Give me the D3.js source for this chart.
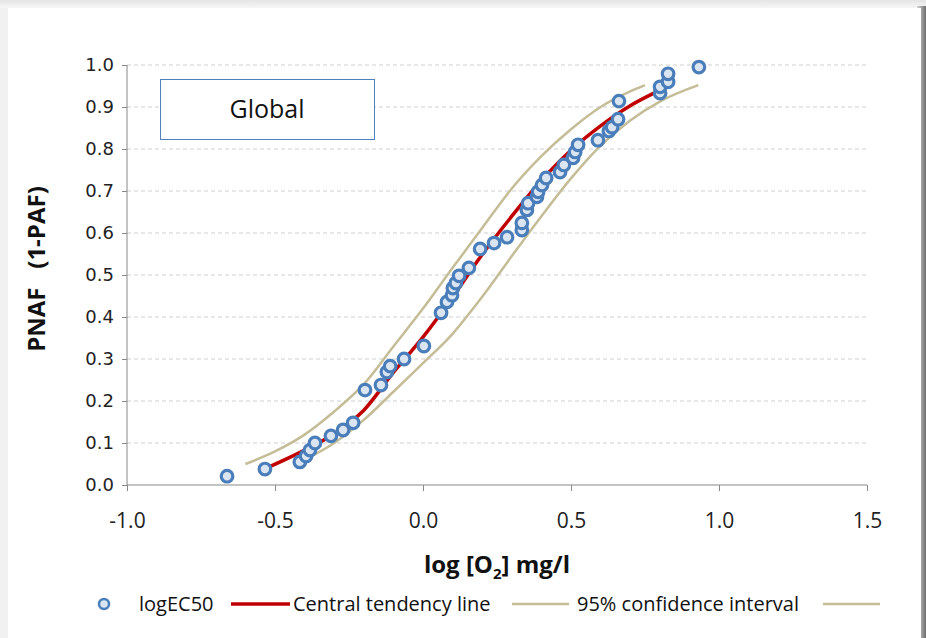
<!DOCTYPE html>
<html>
<head>
<meta charset="utf-8">
<script src="https://cdn.jsdelivr.net/npm/d3@7"></script>
<style>
  body { margin: 0; background: #ffffff; }
  svg { display: block; }
</style>
</head>
<body>
<div id="chart"></div>
<script>
// observed logEC50 values and their PNAF rank
const obsX = [-0.662, -0.534, -0.416, -0.395, -0.382, -0.365, -0.311, -0.270, -0.236, -0.196,
  -0.142, -0.122, -0.111, -0.064, 0.003, 0.061, 0.081, 0.098, 0.101, 0.111,
  0.122, 0.155, 0.193, 0.240, 0.284, 0.334, 0.334, 0.351, 0.355, 0.385,
  0.389, 0.402, 0.416, 0.463, 0.476, 0.507, 0.514, 0.524, 0.591, 0.628,
  0.639, 0.659, 0.662, 0.801, 0.801, 0.828, 0.828, 0.932];
const obsP = [0.021, 0.038, 0.055, 0.069, 0.083, 0.100, 0.117, 0.131, 0.148, 0.226,
  0.238, 0.269, 0.283, 0.300, 0.331, 0.410, 0.436, 0.452, 0.469, 0.481,
  0.498, 0.517, 0.562, 0.576, 0.590, 0.607, 0.624, 0.655, 0.671, 0.686,
  0.698, 0.714, 0.731, 0.745, 0.762, 0.779, 0.793, 0.810, 0.821, 0.843,
  0.852, 0.871, 0.914, 0.933, 0.948, 0.960, 0.979, 0.995];

// central tendency line
const ctX = [-0.52, -0.4, -0.3, -0.2, -0.1, 0.0, 0.1, 0.2, 0.3, 0.4, 0.5, 0.6, 0.7, 0.78];
const ctP = [0.043, 0.083, 0.122, 0.178, 0.268, 0.352, 0.447, 0.549, 0.640, 0.725, 0.797, 0.855, 0.903, 0.933];

// 95% confidence band, upper and lower
const upX = [-0.6, -0.5, -0.4, -0.3, -0.2, -0.1, 0.0, 0.1, 0.2, 0.3, 0.4, 0.5, 0.6, 0.7, 0.75];
const upP = [0.050, 0.080, 0.120, 0.175, 0.240, 0.330, 0.420, 0.517, 0.612, 0.706, 0.783, 0.847, 0.900, 0.937, 0.952];
const loX = [-0.4, -0.3, -0.2, -0.1, 0.0, 0.1, 0.2, 0.3, 0.4, 0.5, 0.6, 0.7, 0.8, 0.93];
const loP = [0.060, 0.100, 0.155, 0.222, 0.290, 0.360, 0.448, 0.545, 0.640, 0.730, 0.808, 0.868, 0.913, 0.952];

const xTicks = [-1.0, -0.5, 0.0, 0.5, 1.0, 1.5];
const yTicks = [0.0, 0.1, 0.2, 0.3, 0.4, 0.5, 0.6, 0.7, 0.8, 0.9, 1.0];

const width = 926, height = 638;
const margin = {left: 127, right: 59, top: 65, bottom: 153};

let markerStroke = "#4a7ebb";
let markerFill = "#dbe5f1";
let ctColour = "#c00000";
let ciColour = "#c4bd97";
let axisColour = "#888888";
let gridColour = "#cfcfcf";

// plain hyphen for negatives, like the original
let fmt = d => d3.format(".1f")(d).replace("\u2212", "-");

var svg = d3.select("#chart")
    .append("svg")
    .attr("width", width)
    .attr("height", height);

// page background and panel shadow
var defs = svg.append("defs");
var sg = defs.append("linearGradient").attr("id", "rshadow");
sg.append("stop").attr("offset", "0%").attr("stop-color", "#d8d8d8");
sg.append("stop").attr("offset", "100%").attr("stop-color", "#6e6e6e");
var tg = defs.append("linearGradient").attr("id", "tshadow")
    .attr("x1", 0).attr("x2", 0).attr("y1", 0).attr("y2", 1);
tg.append("stop").attr("offset", "0%").attr("stop-color", "#e4e4e4");
tg.append("stop").attr("offset", "100%").attr("stop-color", "#f6f6f6");

svg.append("rect").attr("width", width).attr("height", height).attr("fill", "#f1f1f1");
svg.append("rect").attr("width", width).attr("height", 8).attr("fill", "url(#tshadow)");
svg.append("rect").attr("x", 917).attr("y", 6).attr("width", 9).attr("height", height).attr("fill", "url(#rshadow)");
svg.append("rect").attr("x", 8).attr("y", 8).attr("width", 913).attr("height", height).attr("fill", "#ffffff");

var x = d3.scaleLinear().domain([-1.0, 1.5]).range([margin.left, width - margin.right]);
var y = d3.scaleLinear().domain([0, 1.0]).range([height - margin.bottom, margin.top]);

// dashed gridlines
svg.append("g")
    .selectAll("line")
    .data(yTicks.slice(1))
    .enter().append("line")
    .attr("x1", x(-1.0)).attr("x2", x(1.5))
    .attr("y1", d => y(d)).attr("y2", d => y(d))
    .attr("stroke", gridColour)
    .attr("stroke-dasharray", "4,3");

// axes
var xAxis = svg.append("g")
    .attr("transform", "translate(0," + y(0) + ")")
    .call(d3.axisBottom(x).tickValues(xTicks).tickFormat(fmt).tickSize(6).tickPadding(22));
var yAxis = svg.append("g")
    .attr("transform", "translate(" + x(-1.0) + ",0)")
    .call(d3.axisLeft(y).tickValues(yTicks).tickFormat(fmt).tickSize(5).tickPadding(8));

svg.selectAll(".domain, .tick line").attr("stroke", axisColour);
xAxis.selectAll("text")
    .attr("font-family", "'Open Sans', sans-serif")
    .attr("font-size", 21)
    .attr("fill", "#222");
xAxis.select(".domain").attr("d", "M" + x(-1.0) + ",0H" + x(1.5));
yAxis.selectAll("text")
    .attr("font-family", "'DejaVu Sans', sans-serif")
    .attr("font-size", 18)
    .attr("fill", "#222");
yAxis.select(".domain").attr("d", "M0," + y(0) + "V" + y(1.0));

// confidence band and central line
var line = d3.line().curve(d3.curveMonotoneX).x(d => x(d[0])).y(d => y(d[1]));

svg.append("path")
    .attr("d", line(d3.zip(upX, upP)))
    .attr("fill", "none").attr("stroke", ciColour).attr("stroke-width", 2.5);
svg.append("path")
    .attr("d", line(d3.zip(loX, loP)))
    .attr("fill", "none").attr("stroke", ciColour).attr("stroke-width", 2.5);
svg.append("path")
    .attr("d", line(d3.zip(ctX, ctP)))
    .attr("fill", "none").attr("stroke", ctColour).attr("stroke-width", 3.5);

// data markers
svg.append("g")
    .selectAll("circle")
    .data(d3.zip(obsX, obsP))
    .enter().append("circle")
    .attr("cx", d => x(d[0]))
    .attr("cy", d => y(d[1]))
    .attr("r", 5.8)
    .attr("fill", markerFill)
    .attr("stroke", markerStroke)
    .attr("stroke-width", 3.2);

// "Global" label box
svg.append("rect")
    .attr("x", 160.5).attr("y", 79.5).attr("width", 214).attr("height", 60)
    .attr("fill", "#fff").attr("stroke", "#4f81bd").attr("stroke-width", 1);
svg.append("text")
    .attr("x", 267).attr("y", 118)
    .attr("text-anchor", "middle")
    .attr("font-family", "'Open Sans', sans-serif")
    .attr("font-size", 25)
    .attr("fill", "#111")
    .text("Global");

// axis titles
var xt = svg.append("text")
    .attr("x", 497).attr("y", 573)
    .attr("text-anchor", "middle")
    .attr("font-family", "'Open Sans', sans-serif")
    .attr("font-weight", "bold")
    .attr("font-size", 24)
    .attr("fill", "#111");
xt.append("tspan").text("log [O");
xt.append("tspan").attr("font-size", 15).attr("dy", 6).text("2");
xt.append("tspan").attr("dy", -6).text("] mg/l");

svg.append("text")
    .attr("transform", "translate(45,269) rotate(-90)")
    .attr("text-anchor", "middle")
    .attr("font-family", "'Open Sans', sans-serif")
    .attr("font-weight", "bold")
    .attr("font-size", 24)
    .attr("fill", "#111")
    .attr("xml:space", "preserve")
    .text("PNAF   (1-PAF)");

// legend
var legend = svg.append("g").attr("font-family", "'Open Sans', sans-serif").attr("font-size", 20).attr("fill", "#111");
var ly = 604;
legend.append("circle").attr("cx", 104).attr("cy", ly).attr("r", 5)
    .attr("fill", markerFill).attr("stroke", markerStroke).attr("stroke-width", 2.5);
legend.append("text").attr("x", 139).attr("y", ly + 7).text("logEC50");
legend.append("line").attr("x1", 231).attr("x2", 290).attr("y1", ly).attr("y2", ly)
    .attr("stroke", ctColour).attr("stroke-width", 3.5);
legend.append("text").attr("x", 293).attr("y", ly + 7).text("Central tendency line");
legend.append("line").attr("x1", 512).attr("x2", 569).attr("y1", ly).attr("y2", ly)
    .attr("stroke", ciColour).attr("stroke-width", 2.5);
legend.append("text").attr("x", 577).attr("y", ly + 7).text("95% confidence interval");
legend.append("line").attr("x1", 823).attr("x2", 880).attr("y1", ly).attr("y2", ly)
    .attr("stroke", ciColour).attr("stroke-width", 2.5);
</script>
</body>
</html>
